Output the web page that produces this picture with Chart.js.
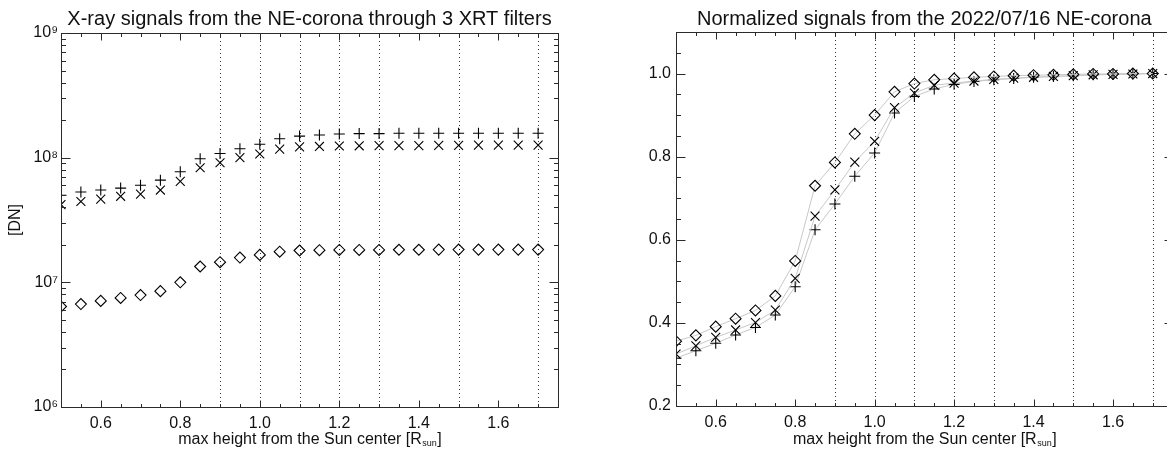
<!DOCTYPE html>
<html>
<head>
<meta charset="utf-8">
<script src="https://cdn.jsdelivr.net/npm/chart.js@4.4.1/dist/chart.umd.min.js"></script>
<style>
  html, body { margin: 0; padding: 0; background: #fff; overflow: hidden; width: 1167px; height: 451px; }
  canvas { position: absolute; top: 0; }
  #signals { left: 0; }
  #normalized { left: 590px; }
</style>
</head>
<body>
<canvas id="signals" width="580" height="451"></canvas>
<canvas id="normalized" width="590" height="451"></canvas>
<script>
// max height from the Sun center [R_sun]
const heights = [0.5, 0.55, 0.6, 0.65, 0.7, 0.75, 0.8, 0.85, 0.9, 0.95, 1.0, 1.05, 1.1,
                 1.15, 1.2, 1.25, 1.3, 1.35, 1.4, 1.45, 1.5, 1.55, 1.6, 1.65, 1.7]
// heights marked with dotted lines
const markedHeights = [0.9, 1.0, 1.1, 1.2, 1.3, 1.5, 1.7]

// XRT signals [DN], one list per filter
const signalPlus = [5.0e7, 5.3e7, 5.5e7, 5.7e7, 6.0e7, 6.6e7, 7.7e7, 9.8e7, 1.08e8, 1.18e8, 1.28e8, 1.42e8, 1.49e8,
                    1.52e8, 1.55e8, 1.56e8, 1.56e8, 1.57e8, 1.57e8, 1.57e8, 1.57e8, 1.57e8, 1.57e8, 1.57e8, 1.57e8]
const signalCross = [4.2e7, 4.45e7, 4.65e7, 4.9e7, 5.1e7, 5.5e7, 6.45e7, 8.3e7, 9.1e7, 1.0e8, 1.07e8, 1.17e8, 1.22e8,
                     1.23e8, 1.24e8, 1.245e8, 1.25e8, 1.25e8, 1.25e8, 1.255e8, 1.255e8, 1.26e8, 1.26e8, 1.26e8, 1.26e8]
const signalDiamond = [6.4e6, 6.7e6, 7.1e6, 7.5e6, 7.9e6, 8.5e6, 1.0e7, 1.34e7, 1.45e7, 1.58e7, 1.66e7, 1.76e7, 1.8e7,
                       1.81e7, 1.82e7, 1.82e7, 1.82e7, 1.825e7, 1.825e7, 1.83e7, 1.83e7, 1.83e7, 1.83e7, 1.83e7, 1.83e7]

// same signals normalized to their outermost value
const normPlus = [0.315, 0.333, 0.351, 0.371, 0.389, 0.419, 0.487, 0.624, 0.686, 0.753, 0.809, 0.905, 0.945,
                  0.963, 0.974, 0.981, 0.985, 0.988, 0.991, 0.993, 0.995, 0.997, 0.998, 0.999, 1.0]
const normCross = [0.325, 0.345, 0.365, 0.383, 0.401, 0.431, 0.507, 0.657, 0.720, 0.787, 0.837, 0.918, 0.953,
                   0.972, 0.977, 0.982, 0.986, 0.989, 0.991, 0.993, 0.995, 0.997, 0.998, 0.999, 1.0]
const normDiamond = [0.356, 0.370, 0.391, 0.410, 0.430, 0.465, 0.549, 0.730, 0.786, 0.855, 0.900, 0.956, 0.976,
                     0.985, 0.988, 0.991, 0.993, 0.995, 0.996, 0.997, 0.998, 0.999, 0.999, 1.0, 1.0]

const heightTicks = [0.6, 0.8, 1.0, 1.2, 1.4, 1.6]
const logTicks = [1e6, 1e7, 1e8, 1e9]
const normTicks = [0.2, 0.4, 0.6, 0.8, 1.0]

const FONT = '"Liberation Sans", Arial, Helvetica, sans-serif'
const INK = '#111'
Chart.defaults.font.family = FONT
Chart.defaults.color = INK

const superscripts = { 6: '\u2076', 7: '\u2077', 8: '\u2078', 9: '\u2079' }

// minor tick positions
const heightMinor = []
for (let i = 0; i < 25; i++) heightMinor.push(0.5 + i * 0.05)
const logMinor = []
for (let e = 6; e < 9; e++) for (let d = 2; d <= 9; d++) logMinor.push(d * Math.pow(10, e))
const normMinor = []
for (let i = 0; i <= 18; i++) normMinor.push(0.2 + i * 0.05)

const points = (ys) => heights.map((h, i) => ({ x: h, y: ys[i] }))

// dotted height markers, box frame with inward ticks, x title with subscript
const framePlugin = {
  id: 'frame',
  beforeDatasetsDraw(chart) {
    const { ctx, chartArea: a, scales: { x } } = chart
    ctx.save()
    ctx.strokeStyle = '#333'
    ctx.lineWidth = 1
    ctx.setLineDash([1, 3])
    markedHeights.forEach(h => {
      const px = Math.round(x.getPixelForValue(h)) + 0.5
      ctx.beginPath()
      ctx.moveTo(px, a.top)
      ctx.lineTo(px, a.bottom)
      ctx.stroke()
    })
    ctx.restore()
  },
  afterDatasetsDraw(chart, args, opts) {
    const { ctx, chartArea: a, scales: { x, y } } = chart
    const L = Math.round(a.left) + 0.5, R = Math.round(a.right) + 0.5
    const T = Math.round(a.top) + 0.5, B = Math.round(a.bottom) + 0.5
    ctx.save()
    ctx.strokeStyle = '#2a2a2a'
    ctx.lineWidth = 1
    ctx.strokeRect(L, T, R - L, B - T)
    ctx.beginPath()
    const xTick = (v, len) => {
      const px = Math.round(x.getPixelForValue(v)) + 0.5
      ctx.moveTo(px, B); ctx.lineTo(px, B - len)
      ctx.moveTo(px, T); ctx.lineTo(px, T + len)
    }
    const yTick = (v, len) => {
      const py = Math.round(y.getPixelForValue(v)) + 0.5
      ctx.moveTo(L, py); ctx.lineTo(L + len, py)
      ctx.moveTo(R, py); ctx.lineTo(R - len, py)
    }
    heightMinor.forEach(v => xTick(v, 3.5))
    heightTicks.forEach(v => xTick(v, 7))
    opts.yMinor.forEach(v => yTick(v, 4.5))
    opts.yMajor.forEach(v => yTick(v, 9))
    ctx.stroke()
    ctx.restore()
  },
  afterDraw(chart) {
    const { ctx, chartArea: a } = chart
    const main = 'max height from the Sun center [R'
    ctx.save()
    ctx.fillStyle = INK
    ctx.textBaseline = 'middle'
    ctx.textAlign = 'left'
    ctx.font = '16px ' + FONT
    const w1 = ctx.measureText(main).width
    const w3 = ctx.measureText(']').width
    ctx.font = '9px ' + FONT
    const w2 = ctx.measureText('sun').width
    let x0 = (a.left + a.right) / 2 - (w1 + w2 + w3) / 2
    const y0 = 440
    ctx.font = '16px ' + FONT
    ctx.fillText(main, x0, y0)
    ctx.font = '9px ' + FONT
    ctx.fillText('sun', x0 + w1 + 0.5, y0 + 4)
    ctx.font = '16px ' + FONT
    ctx.fillText(']', x0 + w1 + w2 + 1, y0)
    ctx.restore()
  }
}

const markerSet = (data, style, radius) => ({
  data,
  pointStyle: style,
  pointRadius: radius,
  pointHoverRadius: radius,
  pointBorderColor: '#000',
  pointBackgroundColor: 'rgba(0,0,0,0)',
  pointBorderWidth: 1.1,
  clip: 0
})

const heightAxis = (width) => ({
  type: 'linear',
  min: 0.5,
  max: 1.75,
  grid: { display: false, drawTicks: false },
  border: { display: false },
  afterBuildTicks: s => { s.ticks = heightTicks.map(v => ({ value: v })) },
  afterFit: s => { s.height = width },
  ticks: { padding: 7, font: { size: 16 }, color: INK, maxRotation: 0, callback: v => v.toFixed(1) }
})

new Chart(document.getElementById('signals'), {
  type: 'scatter',
  data: {
    datasets: [
      markerSet(points(signalDiamond), 'rectRot', 5.5),
      markerSet(points(signalCross), 'crossRot', 6.3),
      markerSet(points(signalPlus), 'cross', 5.5)
    ]
  },
  options: {
    responsive: false,
    animation: false,
    events: [],
    layout: { padding: { left: 0, right: 22, top: 0, bottom: 0 } },
    plugins: {
      legend: { display: false },
      tooltip: { enabled: false },
      title: {
        display: true,
        fullSize: false,
        text: 'X-ray signals from the NE-corona through 3 XRT filters',
        color: INK,
        font: { size: 20, weight: 'normal', lineHeight: 1.2 },
        padding: { top: 7, bottom: 2 }
      },
      frame: { yMajor: logTicks, yMinor: logMinor }
    },
    scales: {
      x: heightAxis(44),
      y: {
        type: 'logarithmic',
        min: 1e6,
        max: 1e9,
        grid: { display: false, drawTicks: false },
        border: { display: false },
        afterBuildTicks: s => { s.ticks = logTicks.map(v => ({ value: v })) },
        afterFit: s => { s.width = 61 },
        ticks: {
          padding: 3,
          font: { size: 16 },
          color: INK,
          callback: v => '10' + superscripts[Math.round(Math.log10(v))]
        },
        title: { display: true, text: '[DN]', color: INK, font: { size: 16 }, padding: { top: 6, bottom: 0 } }
      }
    }
  },
  plugins: [framePlugin]
})

const lineSet = (data, style, radius) => Object.assign(markerSet(data, style, radius), {
  showLine: true,
  borderColor: '#c8c8c8',
  borderWidth: 1,
  tension: 0
})

new Chart(document.getElementById('normalized'), {
  type: 'scatter',
  data: {
    datasets: [
      lineSet(points(normDiamond), 'rectRot', 5.5),
      lineSet(points(normCross), 'crossRot', 6.3),
      lineSet(points(normPlus), 'cross', 5.5)
    ]
  },
  options: {
    responsive: false,
    animation: false,
    events: [],
    layout: { padding: { left: 0, right: 7, top: 0, bottom: 0 } },
    plugins: {
      legend: { display: false },
      tooltip: { enabled: false },
      title: {
        display: true,
        fullSize: false,
        text: 'Normalized signals from the 2022/07/16 NE-corona',
        color: INK,
        font: { size: 20, weight: 'normal', lineHeight: 1.2 },
        padding: { top: 7, bottom: 1 }
      },
      frame: { yMajor: normTicks, yMinor: normMinor }
    },
    scales: {
      x: heightAxis(45),
      y: {
        type: 'linear',
        min: 0.2,
        max: 1.1,
        grid: { display: false, drawTicks: false },
        border: { display: false },
        afterBuildTicks: s => { s.ticks = normTicks.map(v => ({ value: v })) },
        afterFit: s => { s.width = 86 },
        ticks: { padding: 5, font: { size: 16 }, color: INK, callback: v => v.toFixed(1) }
      }
    }
  },
  plugins: [framePlugin]
})
</script>
</body>
</html>
